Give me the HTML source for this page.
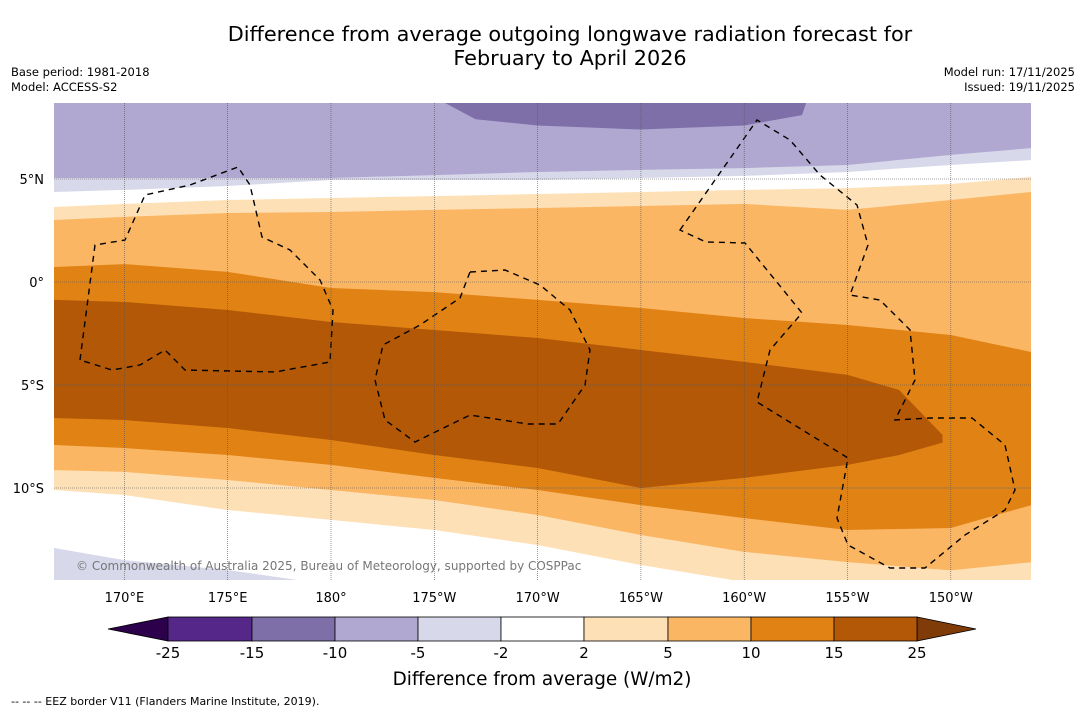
<!DOCTYPE html>
<html><head><meta charset="utf-8">
<style>
body{margin:0;width:1085px;height:713px;background:#fff;font-family:"DejaVu Sans","Liberation Sans",sans-serif;overflow:hidden;position:relative}
.t{position:absolute;white-space:nowrap}
</style></head><body>
<div class="t" style="left:0;width:1140px;top:22px;text-align:center;font-size:20.8px;line-height:24px;color:#000">Difference from average outgoing longwave radiation forecast for<br>February to April 2026</div>
<div class="t" style="left:11px;top:65px;font-size:11.5px;line-height:14.5px">Base period: 1981-2018<br>Model: ACCESS-S2</div>
<div class="t" style="right:10px;top:65px;font-size:11.5px;line-height:14.5px;text-align:right">Model run: 17/11/2025<br>Issued: 19/11/2025</div>
<svg id="s" width="1085" height="713" style="position:absolute;left:0;top:0"></svg>
<div class="t" style="left:11px;top:695px;font-size:11px">--  --  -- EEZ border V11 (Flanders Marine Institute, 2019).</div>
<script>
const lons=[166.6,170,175,180,185,190,195,200,205,210,213.9];
const bA=[5.05,5.05,5.05,5.05,5.19,5.34,5.44,5.53,5.68,6.17,6.5];
const bB=[4.37,4.47,4.66,4.95,4.95,4.95,5.05,5.15,5.34,5.68,5.92];
const bC=[3.64,3.79,3.98,4.08,4.17,4.27,4.37,4.47,4.56,4.76,5.1];
const bD=[3.01,3.16,3.35,3.4,3.5,3.59,3.69,3.79,3.5,3.98,4.37];
const bE=[0.73,0.87,0.49,-0.29,-0.49,-0.87,-1.26,-1.75,-2.09,-2.57,-3.4];
const bH=[-7.91,-8.06,-8.4,-8.88,-9.51,-10.1,-10.83,-11.46,-12.04,-11.94,-10.83];
const bI=[-9.13,-9.22,-9.61,-10.1,-10.58,-11.31,-12.28,-13.1,-13.6,-14.0,-13.6];
const bJ=[-10.1,-10.34,-11.07,-11.55,-12.04,-12.77,-13.74,-14.56,-15,-15,-15];
const bK=[-12.91,-13.5,-13.98,-14.7,-15.5,-15.5,-15.5,-15.5,-15.5,-15.5,-15.5];
const darkLons=[166.6,170,175,180,185,190,195,200,205,207.5,209.6];
const darkTop=[-0.87,-0.97,-1.36,-1.94,-2.33,-2.72,-3.3,-3.88,-4.51,-5.24,-7.43];
const darkBot=[-6.6,-6.7,-7.09,-7.67,-8.4,-9.03,-10,-9.51,-8.88,-8.4,-7.8];
const patchLons=[185.5,187,190,195,200,202.8,203];
const patchLats=[8.7,7.9,7.6,7.4,7.6,8.1,8.7];
const lonTicks=[170,175,180,185,190,195,200,205,210];
const lonLabels=["170°E","175°E","180°","175°W","170°W","165°W","160°W","155°W","150°W"];
const latTicks=[5,0,-5,-10];
const latLabels=["5N","0°","5S","10S"];
const levels=["-25","-15","-10","-5","-2","2","5","10","15","25"];
const colors=["#542788","#7e6fa9","#b0a8d0","#d8d8eb","#ffffff","#fee0b6","#fbb663","#e08214","#b35806"];
const X=l=>331+(l-180)*20.66, Y=a=>282-a*20.6;
const L=54,R=1031,T=103,B=580;
const s=document.getElementById('s'),NS='http://www.w3.org/2000/svg';
function mk(t,a,p){const e=document.createElementNS(NS,t);for(const k in a)e.setAttribute(k,a[k]);(p||s).appendChild(e);return e;}
const g=mk('g',{'clip-path':'url(#c)'});
const cp=mk('clipPath',{id:'c'});mk('rect',{x:L,y:T,width:R-L,height:B-T},cp);
let e=mk('rect',{x:L,y:T,width:R-L,height:B-T,fill:colors[2]},g);

function below(b,c,n){let d='M'+X(lons[0])+','+Y(b[0]);for(let i=1;i<lons.length;i++)d+='L'+X(lons[i])+','+Y(b[i]);d+='L'+(R+5)+','+Y(b[b.length-1])+'L'+(R+5)+',700L'+(L-5)+',700L'+(L-5)+','+Y(b[0])+'Z';const p=mk('path',{d:d,fill:c},g);}
below(bA,colors[3],'band-minus5');below(bB,colors[4],'band-neutral');below(bC,colors[5],'band-2-5');below(bD,colors[6],'band-5-10');below(bE,colors[7],'band-10-15');below(bH,colors[6],'band-5-10-south');below(bI,colors[5],'band-2-5-south');below(bJ,colors[4],'band-neutral-south');below(bK,colors[3],'band-minus5-south');
let d='';darkLons.forEach((l,i)=>d+=(i?'L':'M')+X(l)+','+Y(darkTop[i]));for(let i=darkLons.length-1;i>=0;i--)d+='L'+X(darkLons[i])+','+Y(darkBot[i]);d+='L'+(L-5)+','+Y(darkBot[0])+'L'+(L-5)+','+Y(darkTop[0])+'Z';
e=mk('path',{d:d,fill:colors[8]},g);
d='';patchLons.forEach((l,i)=>d+=(i?'L':'M')+X(l)+','+Y(patchLats[i]));
e=mk('path',{d:d+'Z',fill:colors[1]},g);
lonTicks.forEach((l,i)=>{let ln=mk('line',{x1:X(l),x2:X(l),y1:T,y2:B,stroke:'#555','stroke-width':0.6,'stroke-dasharray':'1,1'});
let t=mk('text',{x:X(l),y:602,'text-anchor':'middle','font-size':13});t.textContent=lonLabels[i];});
latTicks.forEach((a,i)=>{let ln=mk('line',{x1:L,x2:R,y1:Y(a),y2:Y(a),stroke:'#555','stroke-width':0.6,'stroke-dasharray':'1,1'});
let lab=latLabels[i].replace('N','°N').replace('S','°S');let t=mk('text',{x:44,y:Y(a)+5,'text-anchor':'end','font-size':13});t.textContent=lab;});
const eez=["M80,360L95,245L125,240L145,195L190,185L238,167L250,185L262,237L290,250L320,280L333,310L330,362L275,372L185,370L165,350L140,365L112,370Z",
"M470,272L505,270L540,285L570,310L590,350L585,385L558,424L528,424L470,415L415,442L385,420L375,380L383,345L420,325L460,298Z",
"M680,230L757,120L790,140L820,175L857,205L868,245L850,295L880,300L910,330L915,380L895,420L930,418L972,418L1005,445L1015,490L1005,510L965,535L925,568L890,568L848,545L837,518L848,458L757,402L770,350L802,313L745,243L706,242Z"];
eez.forEach(p=>{e=mk('path',{d:p,fill:'none',stroke:'#000','stroke-width':1.4,'stroke-dasharray':'6,5'},g);});
e=mk('text',{x:76,y:570,'font-size':12,fill:'#777'});e.textContent='© Commonwealth of Australia 2025, Bureau of Meteorology, supported by COSPPac';
const cbx=[168,252,335,418,501,584,668,751,834,917];
e=mk('polygon',{points:'108,629 168,617 168,641',fill:'#2d004b',stroke:'#000','stroke-width':0.8});
e=mk('polygon',{points:'976,629 917,617 917,641',fill:'#7f3b08',stroke:'#000','stroke-width':0.8});
for(let i=0;i<9;i++){e=mk('rect',{x:cbx[i],y:617,width:cbx[i+1]-cbx[i],height:24,fill:colors[i],stroke:'#000','stroke-width':0.8});}
levels.forEach((v,i)=>{let t=mk('text',{x:cbx[i],y:658,'text-anchor':'middle','font-size':15});t.textContent=v;});
e=mk('text',{x:542,y:685,'text-anchor':'middle','font-size':18.4});e.textContent='Difference from average (W/m2)';
</script>
</body></html>
